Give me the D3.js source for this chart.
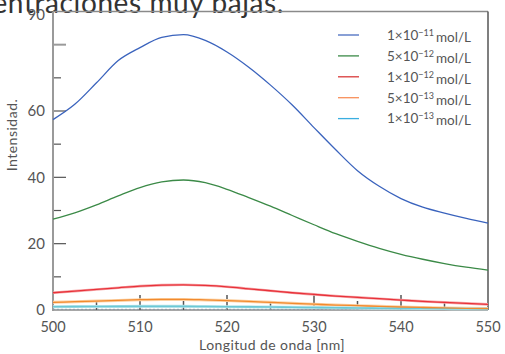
<!DOCTYPE html>
<html>
<head>
<meta charset="utf-8">
<script src="https://cdn.jsdelivr.net/npm/d3@7"></script>
<style>
  html, body { margin: 0; padding: 0; background: #fff; overflow: hidden; }
  svg { display: block; font-family: Lato, "Open Sans", sans-serif; }
</style>
</head>
<body>
<svg id="chart" width="505" height="354"></svg>
<script>
// Wavelength grid (nm)
const wavelengths = [500, 502.5, 505, 507.5, 510, 512.5, 515, 517.5, 520, 522.5, 525,
                     527.5, 530, 532.5, 535, 537.5, 540, 542.5, 545, 547.5, 550];

// Fluorescence intensity for each concentration
const conc1e11 = [57.4, 62.0, 68.5, 75.2, 79.1, 82.2, 83.0, 81.3, 77.8, 73.2, 67.8,
                  61.8, 55.0, 48.3, 42.0, 37.3, 33.6, 31.0, 29.2, 27.6, 26.2];
const conc5e12 = [27.4, 29.3, 31.7, 34.4, 36.9, 38.6, 39.2, 38.4, 36.4, 33.9, 31.3,
                  28.5, 25.7, 23.0, 20.7, 18.6, 16.8, 15.3, 14.0, 12.9, 12.0];
const conc1e12 = [5.2, 5.7, 6.2, 6.7, 7.2, 7.5, 7.6, 7.4, 7.0, 6.4, 5.8,
                  5.2, 4.7, 4.2, 3.8, 3.4, 3.0, 2.6, 2.3, 2.0, 1.7];
const conc5e13 = [2.3, 2.5, 2.7, 2.9, 3.1, 3.2, 3.2, 3.05, 2.85, 2.6, 2.3,
                  2.0, 1.75, 1.5, 1.3, 1.1, 0.9, 0.75, 0.62, 0.52, 0.45];
const conc1e13 = [1.0, 1.02, 1.05, 1.08, 1.1, 1.1, 1.1, 1.05, 1.0, 0.95, 0.9,
                  0.82, 0.75, 0.68, 0.6, 0.55, 0.5, 0.46, 0.42, 0.38, 0.35];
// Blank baseline (dotted)
const blankWl = [500, 550];
const blank = [0.2, 0.2];

const seriesNames = [
  {mant: "1×10", exp: "−11"},
  {mant: "5×10", exp: "−12"},
  {mant: "1×10", exp: "−12"},
  {mant: "5×10", exp: "−13"},
  {mant: "1×10", exp: "−13"}
];
const seriesValues = [conc1e11, conc5e12, conc1e12, conc5e13, conc1e13];
const lineColors = ["#3a63bd", "#3b8a47", "#e8323a", "#f28a2e", "#6cc8d6"];
const legendColors = ["#4a6cc0", "#3b8a47", "#d93a3a", "#f8905a", "#3aaee0"];

const xTickLabels = [500, 510, 520, 530, 540, 550];
const xTicks = d3.range(505, 550, 5);
const yTickLabels = [0, 20, 40, 60, 90];
const yTicks = [10, 20, 30, 40, 50, 60, 70, 80];

const svg = d3.select("#chart");
const L = 53, R = 488, T = 11.5, B = 310;

const x = d3.scaleLinear().domain([500, 550]).range([L, R]);
const y = d3.scaleLinear().domain([0, 90]).range([B, T]);

// Heading (partly out of view above the chart)
svg.append("text")
  .attr("x", 284).attr("y", 13)
  .attr("text-anchor", "end")
  .attr("font-size", 28)
  .attr("letter-spacing", 0.6)
  .attr("fill", "#333")
  .text("concentraciones muy bajas.");

// Frame
svg.append("line").attr("x1", L).attr("x2", R).attr("y1", T).attr("y2", T)
  .attr("stroke", "#8a8a8a").attr("stroke-width", 1.5);
svg.append("line").attr("x1", R).attr("x2", R).attr("y1", T).attr("y2", B)
  .attr("stroke", "#555").attr("stroke-width", 1.5);
svg.append("line").attr("x1", L).attr("x2", R).attr("y1", B).attr("y2", B)
  .attr("stroke", "#8a8a8a").attr("stroke-width", 1.5);

// Y ticks (inward)
svg.append("g").selectAll("line").data(yTicks).join("line")
  .attr("x1", L).attr("x2", d => L + (d % 20 === 0 ? 13 : 8))
  .attr("y1", d => y(d)).attr("y2", d => y(d))
  .attr("stroke", d => d >= 60 && d % 20 === 0 ? "#9a9a9a" : "#555")
  .attr("stroke-width", d => d >= 60 && d % 20 === 0 ? 2 : 1.2);

// X ticks (inward)
svg.append("g").selectAll("line").data(xTicks).join("line")
  .attr("x1", d => x(d)).attr("x2", d => x(d))
  .attr("y1", B).attr("y2", d => B - (d % 10 === 0 ? 15 : 9))
  .attr("stroke", "#555").attr("stroke-width", 1.5);

// Left axis line
svg.append("line").attr("x1", L).attr("x2", L).attr("y1", T).attr("y2", B + 1)
  .attr("stroke", "#9a9a9a").attr("stroke-width", 2);

// Tick labels
svg.append("g").selectAll("text").data(yTickLabels).join("text")
  .attr("x", 45).attr("y", d => d === 90 ? 15 : y(d))
  .attr("dy", "0.35em").attr("text-anchor", "end")
  .attr("font-size", 15).attr("fill", "#555")
  .text(d => d);
svg.append("g").selectAll("text").data(xTickLabels).join("text")
  .attr("x", d => x(d)).attr("y", 327)
  .attr("dy", "0.35em").attr("text-anchor", "middle")
  .attr("font-size", 14.5).attr("fill", "#555")
  .text(d => d);

// Axis titles
svg.append("text")
  .attr("transform", "translate(17,135) rotate(-90)")
  .attr("text-anchor", "middle")
  .attr("font-size", 14).attr("letter-spacing", 0.5).attr("fill", "#555")
  .text("Intensidad.");
svg.append("text")
  .attr("x", 272).attr("y", 350)
  .attr("text-anchor", "middle")
  .attr("font-size", 14).attr("letter-spacing", 0.4).attr("fill", "#555")
  .text("Longitud de onda [nm]");

// Curves
const line = d3.line()
  .x((d, i) => x(wavelengths[i]))
  .y(d => y(d))
  .curve(d3.curveMonotoneX);

const plot = svg.append("g");
plot.append("path")
  .datum(blank)
  .attr("d", d3.line().x((d, i) => x(blankWl[i])).y(d => y(d)))
  .attr("fill", "none").attr("stroke", "#8a9aa8").attr("stroke-width", 1)
  .attr("stroke-dasharray", "2,2");

// soft halo under the faint curves
plot.append("path").datum(conc5e13).attr("d", line)
  .attr("fill", "none").attr("stroke", "#fcd2a4").attr("stroke-width", 3);
plot.append("path").datum(conc1e12).attr("d", line)
  .attr("fill", "none").attr("stroke", "#f6a8aa").attr("stroke-width", 2.6);
plot.append("path").datum(conc1e13).attr("d", line)
  .attr("fill", "none").attr("stroke", "#bde8ec").attr("stroke-width", 3);

const widths = [1.3, 1.3, 1.3, 1.3, 1.6];
plot.selectAll("path.series").data(seriesValues.slice().reverse()).join("path")
  .attr("class", "series")
  .attr("d", line)
  .attr("fill", "none")
  .attr("stroke", (d, i) => lineColors[4 - i])
  .attr("stroke-width", (d, i) => widths[4 - i]);

// Legend
const leg = svg.append("g");
const rows = leg.selectAll("g").data(seriesNames).join("g")
  .attr("transform", (d, i) => `translate(0,${35 + i * 20.9})`);
rows.append("line").attr("x1", 338).attr("x2", 359).attr("y1", 0).attr("y2", 0)
  .attr("stroke", (d, i) => legendColors[i]).attr("stroke-width", 1.3);
const lt = rows.append("text")
  .attr("x", 471).attr("y", 0).attr("dy", "0.36em")
  .attr("text-anchor", "end")
  .attr("font-size", 13.5).attr("fill", "#555");
lt.append("tspan").text(d => d.mant);
lt.append("tspan").attr("dy", "-0.45em").attr("font-size", 9).text(d => d.exp);
lt.append("tspan").attr("dy", "0.45em").attr("dx", 2).text("mol/L");
</script>
</body>
</html>
